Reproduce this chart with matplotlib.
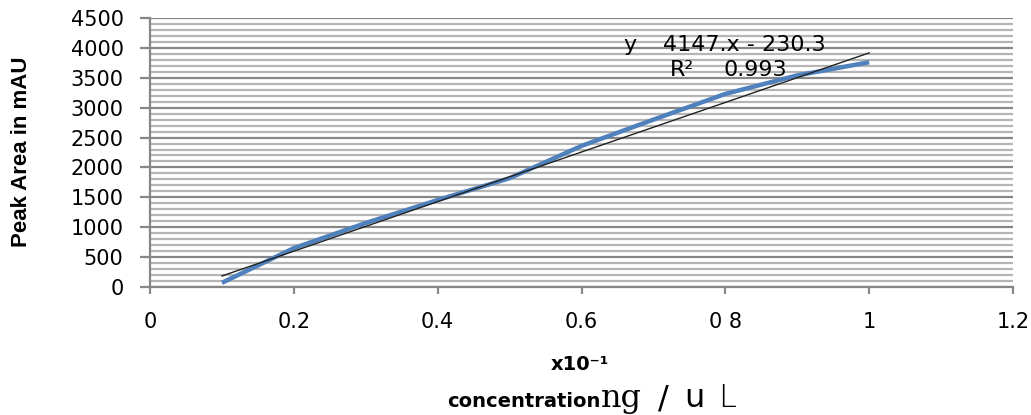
import matplotlib.pyplot as plt
import numpy as np
from matplotlib.ticker import MultipleLocator

# concentration (x10^-1 ng/uL) and peak area (mAU)
concentration = [0.1, 0.2, 0.3, 0.4, 0.5, 0.6, 0.7, 0.8, 0.9, 1.0]
peakArea = [70, 650, 1070, 1455, 1820, 2360, 2800, 3230, 3540, 3760]

# trendline as printed on the chart
slope = 4147
intercept = -230.3
rSquared = 0.993

xTicks = [0, 0.2, 0.4, 0.6, 0.8, 1, 1.2]
xTickLabels = ['0', '0.2', '0.4', '0.6', '0 8', '1', '1.2']
yTicks = [0, 500, 1000, 1500, 2000, 2500, 3000, 3500, 4000, 4500]

plt.rcParams['font.family'] = ['DejaVu Sans']

W, H = 1031, 415
fig = plt.figure(figsize=(W/100, H/100), dpi=100)
ax = fig.add_axes([150/W, 1-287/H, 863/W, 269/H])

majorColor = '#878787'
minorColor = '#b5b5b5'

ax.set_xlim(0, 1.2)
ax.set_ylim(0, 4500)
ax.set_xticks(xTicks)
ax.set_xticklabels(xTickLabels)
ax.set_yticks(yTicks)
ax.yaxis.set_minor_locator(MultipleLocator(100))

ax.grid(axis='y', which='major', color=majorColor, linewidth=1.6, zorder=0)
ax.grid(axis='y', which='minor', color=minorColor, linewidth=1.6, zorder=0)
ax.set_axisbelow(True)

for side in ['top', 'right']:
	ax.spines[side].set_visible(False)
for side in ['left', 'bottom']:
	ax.spines[side].set_color(majorColor)
	ax.spines[side].set_linewidth(1.6)

ax.tick_params(axis='y', which='major', length=7, width=1.6, color=majorColor, pad=12, labelsize=15)
ax.tick_params(axis='y', which='minor', length=0)
ax.tick_params(axis='x', which='major', length=5, width=1.6, color=majorColor, pad=13, labelsize=15)

lineX = np.array([concentration[0], concentration[-1]])
ax.plot(lineX, slope*lineX + intercept, color='#222222', linewidth=1.0, zorder=3)
ax.plot(concentration, peakArea, color='#4f81bd', linewidth=3.2, solid_capstyle='butt', zorder=2)

# regression label (the "=" signs are not visible in the original)
ax.text(0.658, 4047, 'y', fontsize=16, ha='left', va='center')
ax.text(0.713, 4047, f'{slope}.x - {-intercept}', fontsize=16, ha='left', va='center')
ax.text(0.723, 3629, 'R²', fontsize=16, ha='left', va='center')
ax.text(0.797, 3629, f'{rSquared}', fontsize=16, ha='left', va='center')

fig.text(22/W, 1-152/H, 'Peak Area in mAU', rotation=90, fontsize=16, fontweight='bold',
	family=['Liberation Sans', 'DejaVu Sans'], ha='center', va='center')

fig.text(580/W, 1-364/H, 'x10⁻¹', fontsize=14, fontweight='bold', ha='center', va='center')
fig.text(600/W, 1-407/H, 'concentration', fontsize=14, fontweight='bold', ha='right', va='baseline')
fig.text(601/W, 1-407/H, 'ng', fontsize=23, family=['DejaVu Serif'], ha='left', va='baseline')
fig.text(658/W, 1-407/H, '/', fontsize=23, ha='left', va='baseline')
fig.text(684/W, 1-407/H, 'u', fontsize=23, ha='left', va='baseline')
fig.text(718/W, 1-407/H, 'L', fontsize=23, fontweight='light', ha='left', va='baseline')

fig.savefig('out.png', dpi=100)
